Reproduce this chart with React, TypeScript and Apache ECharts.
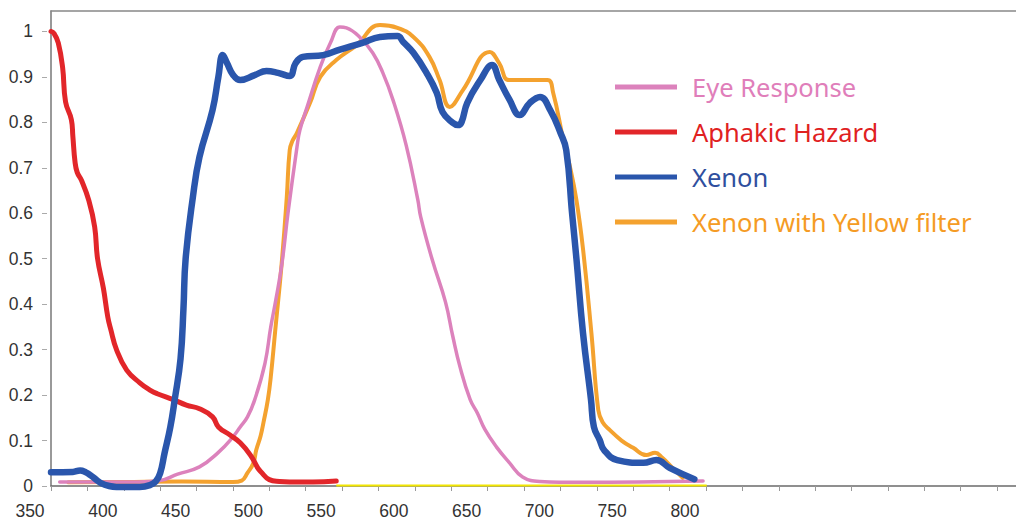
import React, { useEffect, useRef } from 'react';
import * as echarts from 'echarts';

// wavelength (nm) / relative value pairs
const eyeResponse: [number, number][] = [
  [356, 0.009], [380, 0.009], [410, 0.009], [425, 0.012], [437, 0.026], [452, 0.042],
  [465, 0.074], [475, 0.108], [480, 0.13], [485, 0.152], [490, 0.19], [497, 0.27],
  [501, 0.35], [504.5, 0.41], [508.7, 0.49], [512.8, 0.6], [519, 0.746], [521, 0.783],
  [526, 0.834], [535, 0.922], [542, 0.975], [548.5, 1.01], [553, 1.008], [562, 0.988],
  [571, 0.953], [578, 0.909], [585, 0.849], [594, 0.75], [602, 0.63], [604, 0.592],
  [612, 0.497], [621, 0.405], [626, 0.33], [631, 0.262], [638, 0.19], [643, 0.16],
  [648, 0.125], [656, 0.086], [665, 0.051], [674, 0.02], [686, 0.01], [714, 0.008],
  [798, 0.011],
];

const aphakicHazard: [number, number][] = [
  [350, 1.0], [352, 0.996], [355, 0.975], [358, 0.92], [360, 0.845], [364, 0.806],
  [365, 0.77], [366.5, 0.713], [368, 0.69], [371, 0.672], [376, 0.628], [380, 0.57],
  [382, 0.5], [386, 0.435], [389, 0.372], [391, 0.345], [395, 0.3], [402, 0.255],
  [411, 0.227], [418, 0.211], [423, 0.203], [434, 0.19], [443, 0.178], [452, 0.17],
  [461, 0.152], [465, 0.13], [473, 0.112], [480, 0.095], [487, 0.068], [492, 0.04],
  [494, 0.032], [500, 0.014], [507, 0.01], [514, 0.009], [530, 0.009], [546, 0.011],
];

const xenon: [number, number][] = [
  [350, 0.03], [365, 0.031], [370, 0.034], [374, 0.03], [377, 0.024], [381, 0.014],
  [384, 0.007], [390, 0.0], [395, -0.002], [411, -0.002], [418, 0.002], [422, 0.01],
  [425, 0.028], [428, 0.072], [432, 0.13], [435, 0.19], [439, 0.28], [441, 0.39],
  [442.5, 0.5], [447.5, 0.636], [452, 0.724], [461, 0.827], [465, 0.9], [468, 0.948],
  [471, 0.93], [475, 0.905], [480, 0.893], [490, 0.904], [498, 0.913], [506, 0.909],
  [514, 0.902], [518, 0.93], [523, 0.944], [537, 0.948], [548.5, 0.96], [564, 0.975],
  [576, 0.988], [588, 0.99], [592, 0.977], [599, 0.953], [608, 0.909], [615, 0.865],
  [619, 0.823], [626, 0.799], [629.5, 0.794], [632, 0.8], [636, 0.843], [645, 0.893],
  [653, 0.926], [658, 0.893], [665, 0.85], [672, 0.816], [679, 0.843], [686, 0.856],
  [693, 0.827], [700, 0.777], [704, 0.739], [708, 0.6], [711, 0.5], [715.5, 0.337],
  [721, 0.19], [723, 0.13], [727, 0.101], [730, 0.079], [739, 0.057], [757, 0.051],
  [766, 0.057], [775, 0.04], [792, 0.015],
];

const xenonYellowFilter: [number, number][] = [
  [362, 0.008], [400, 0.009], [440, 0.01], [475, 0.009], [481, 0.012], [485, 0.029],
  [489, 0.05], [491, 0.079], [494, 0.11], [496, 0.14], [499, 0.19], [501, 0.24],
  [504, 0.34], [508.5, 0.49], [512, 0.636], [514, 0.739], [516, 0.76], [519, 0.777],
  [528, 0.843], [535, 0.9], [546, 0.937], [560, 0.97], [576, 1.014], [588, 1.008],
  [599, 0.988], [610, 0.944], [617, 0.893], [624, 0.834], [633, 0.871], [651.5, 0.955],
  [658, 0.93], [665, 0.893], [691, 0.893], [695, 0.865], [702, 0.761], [706, 0.71],
  [711, 0.629], [715.6, 0.519], [721.3, 0.336], [726, 0.167], [729, 0.14], [734, 0.123],
  [742, 0.1], [750, 0.084], [759, 0.068], [765, 0.073], [770, 0.062], [777, 0.04],
  [784, 0.018],
];

const yellowBaseline: [number, number][] = [[546, 0.001], [800.5, 0.001]];

const xTickValues = [
  350, 375, 400, 425, 450, 475, 500, 525, 550, 575, 600, 625, 650, 675, 700, 725,
  750, 775, 800, 825, 850, 875, 900, 925, 950, 975, 1000,
];
const xLabelValues = [350, 400, 450, 500, 550, 600, 650, 700, 750, 800];
const yTickValues = [0, 0.1, 0.2, 0.3, 0.4, 0.5, 0.6, 0.7, 0.8, 0.9, 1];

const names = ['Eye Response', 'Aphakic Hazard', 'Xenon', 'Xenon with Yellow filter'];
const lineColors = ['#DC82BC', '#E2262A', '#2A56AC', '#F4A22F'];
const textColors = ['#E07EBA', '#E0211F', '#2F4F9E', '#F59B24'];

export default function App() {
  const ref = useRef<HTMLDivElement>(null);
  useEffect(() => {
    const chart = echarts.init(ref.current!, null, { renderer: 'svg' });
    const lineSeries = (name: string, data: [number, number][], color: string, width: number, z: number) => ({
      name,
      type: 'line',
      data,
      xAxisIndex: 0,
      yAxisIndex: 0,
      showSymbol: false,
      symbol: 'none',
      smooth: 0.45,
      clip: false,
      z,
      lineStyle: { color, width, cap: 'round', join: 'round' },
      itemStyle: { color },
      emphasis: { disabled: true },
    });
    chart.setOption({
      animation: false,
      backgroundColor: '#ffffff',
      grid: { left: 51, top: 11, right: 0, bottom: 35, containLabel: false },
      legend: {
        orient: 'vertical',
        left: 615,
        top: 74,
        padding: 0,
        itemGap: 19,
        itemWidth: 62,
        itemHeight: 5,
        icon: 'rect',
        selectedMode: false,
        textStyle: { fontFamily: 'Noto Sans', fontSize: 25.5, padding: [0, 0, 0, 10] },
        data: names.map((n, i) => ({ name: n, textStyle: { color: textColors[i] } })),
      },
      xAxis: [
        {
          type: 'value',
          min: 350,
          max: 1013,
          position: 'bottom',
          axisLine: { show: true, onZero: false, lineStyle: { color: '#6a6a6a', width: 1.5 } },
          axisTick: { show: true, length: 5, customValues: xTickValues, lineStyle: { color: '#999' } },
          axisLabel: {
            customValues: xLabelValues,
            margin: 16,
            fontSize: 17.5,
            color: '#333',
            fontFamily: 'Liberation Sans',
            padding: [0, 42, 0, 0],
          },
          splitLine: { show: false },
        },
        {
          type: 'value',
          min: 350,
          max: 1013,
          position: 'top',
          axisLine: { show: true, onZero: false, lineStyle: { color: '#888', width: 1.5 } },
          axisTick: { show: false },
          axisLabel: { show: false },
          splitLine: { show: false },
        },
      ],
      yAxis: [
        {
          type: 'value',
          min: 0,
          max: 1.045,
          position: 'left',
          axisLine: { show: true, onZero: false, lineStyle: { color: '#777', width: 1.5 } },
          axisTick: { show: false },
          axisLabel: {
            customValues: yTickValues,
            margin: 18,
            fontSize: 17.5,
            color: '#333',
            fontFamily: 'Liberation Sans',
            formatter: (v: number) => String(v),
          },
          splitLine: { show: false },
        },
        {
          type: 'value',
          min: 0,
          max: 1.045,
          position: 'left',
          offset: 4,
          axisLine: { show: false },
          axisTick: { show: true, length: 5, customValues: yTickValues, lineStyle: { color: '#aaa' } },
          axisLabel: { show: false },
          splitLine: { show: false },
        },
      ],
      series: [
        {
          name: 'yellow baseline',
          type: 'line',
          data: yellowBaseline,
          showSymbol: false,
          symbol: 'none',
          clip: false,
          z: 1,
          lineStyle: { color: '#F2E600', width: 2 },
          itemStyle: { color: '#F2E600' },
        },
        lineSeries(names[3], xenonYellowFilter, lineColors[3], 4, 2),
        lineSeries(names[0], eyeResponse, lineColors[0], 3.5, 3),
        lineSeries(names[1], aphakicHazard, lineColors[1], 5, 4),
        lineSeries(names[2], xenon, lineColors[2], 6.5, 5),
      ],
    });
    return () => chart.dispose();
  }, []);
  return (
    <div
      ref={ref}
      style={{ position: 'absolute', left: 0, top: 0, width: 1016, height: 521, background: '#fff' }}
    />
  );
}
